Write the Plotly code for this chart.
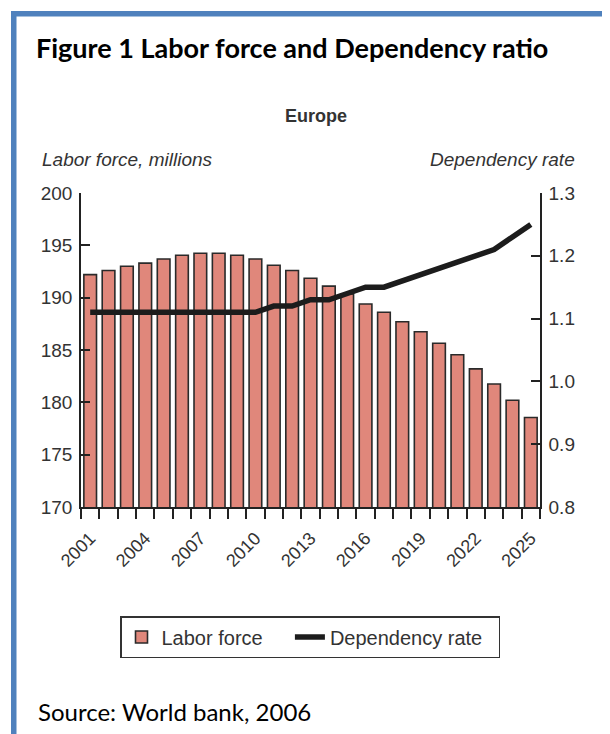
import plotly.graph_objects as go

years = list(range(2001, 2026))
labor_force = [192.2, 192.6, 193.0, 193.3, 193.7, 194.05, 194.25, 194.25, 194.05, 193.7,
               193.1, 192.6, 191.85, 191.1, 190.35, 189.4, 188.6, 187.7, 186.75, 185.65,
               184.55, 183.2, 181.75, 180.2, 178.55]
dependency = [1.11, 1.11, 1.11, 1.11, 1.11, 1.11, 1.11, 1.11, 1.11, 1.11,
              1.12, 1.12, 1.13, 1.13, 1.14, 1.15, 1.15, 1.16, 1.17, 1.18,
              1.19, 1.20, 1.21, 1.23, 1.25]
label_years = [2001, 2004, 2007, 2010, 2013, 2016, 2019, 2022, 2025]
left_ticks = [170, 175, 180, 185, 190, 195, 200]
right_ticks = [0.8, 0.9, 1.0, 1.1, 1.2, 1.3]

# page body has an 8px margin, so the figure is offset by 8px
OFF = 8
W, H = 610 - OFF, 734 - OFF
L, R, T, B = 81, 540, 193, 507  # plot area in window pixels


def px(x):
    return (x - L) / (R - L)


def py(y):
    return (B - y) / (B - T)


AX = "Liberation Sans"
TXT = "#333333"
NB = "\u00a0"

fig = go.Figure()
fig.add_trace(go.Bar(
    x=years, y=labor_force, name="Labor force" + NB * 4,
    marker=dict(color="#E0877B", line=dict(color="#2a2a2a", width=1.6)),
    yaxis="y",
))
fig.add_trace(go.Scatter(
    x=years, y=dependency, name="Dependency rate" + NB * 2, mode="lines",
    line=dict(color="#1c1c1c", width=5.5),
    yaxis="y2",
))

fig.update_layout(
    width=W, height=H,
    margin=dict(l=L - OFF, r=610 - R, t=T - OFF, b=734 - B),
    paper_bgcolor="white", plot_bgcolor="white",
    bargap=0.31,
    showlegend=True,
    legend=dict(
        orientation="h", x=px(120), xanchor="left", y=py(637), yanchor="middle",
        bordercolor="#333333", borderwidth=1.5,
        font=dict(family=AX, size=20, color=TXT),
        itemwidth=30,
    ),
    xaxis=dict(
        range=[2000.5, 2025.5], tickmode="array", tickvals=label_years,
        ticktext=[str(v) for v in label_years], tickangle=-45,
        ticks="outside", ticklen=12, tickcolor="rgba(0,0,0,0)",
        showline=True, linecolor="#222222", linewidth=1.5,
        showgrid=False, zeroline=False,
        tickfont=dict(family=AX, size=18, color=TXT),
        minor=dict(ticks="outside", tick0=2000.5, dtick=1, ticklen=10,
                   tickcolor="#222222", tickwidth=1.5, showgrid=False),
    ),
    yaxis=dict(
        range=[170, 200], tickvals=left_ticks,
        ticks="inside", ticklen=9, tickcolor="#222222", tickwidth=1.5,
        showline=True, linecolor="#222222", linewidth=1.5,
        showgrid=False, zeroline=False,
        ticklabelstandoff=3,
        tickfont=dict(family=AX, size=19, color=TXT),
    ),
    yaxis2=dict(
        range=[0.8, 1.3], tickvals=right_ticks, tickformat=".1f",
        overlaying="y", side="right",
        ticks="inside", ticklen=9, tickcolor="#222222", tickwidth=1.5,
        showline=True, linecolor="#222222", linewidth=1.5,
        showgrid=False, zeroline=False,
        ticklabelstandoff=3,
        tickfont=dict(family=AX, size=19, color=TXT),
    ),
)

annotations = [
    dict(text="<b>Figure 1 Labor force and Dependency ratio</b>", x=px(34), y=py(47),
         xanchor="left", yanchor="middle", font=dict(family="Lato", size=27, color="black")),
    dict(text="<b>Europe</b>", x=px(316), y=py(116), xanchor="center", yanchor="middle",
         font=dict(family=AX, size=18, color=TXT)),
    dict(text="<i>Labor force, millions</i>", x=px(40), y=py(159), xanchor="left", yanchor="middle",
         font=dict(family=AX, size=19, color=TXT)),
    dict(text="<i>Dependency rate</i>", x=px(577), y=py(159), xanchor="right", yanchor="middle",
         font=dict(family=AX, size=19, color=TXT)),
    dict(text="Source: World bank, 2006", x=px(36), y=py(711), xanchor="left", yanchor="middle",
         font=dict(family="Lato", size=24, color="black")),
]
for a in annotations:
    a.update(xref="paper", yref="paper", showarrow=False)
fig.update_layout(annotations=annotations)

BLUE = "#4F81BD"
shapes = [
    dict(type="rect", x0=px(11), x1=px(16.5), y0=py(745), y1=py(11), fillcolor=BLUE),
    dict(type="rect", x0=px(11), x1=px(615), y0=py(16.5), y1=py(11), fillcolor=BLUE),
    dict(type="rect", x0=px(606.5), x1=px(608.5), y0=py(745), y1=py(16), fillcolor="#A9C0DF"),
]
for s in shapes:
    s.update(xref="paper", yref="paper", line=dict(width=0), layer="above")
fig.update_layout(shapes=shapes)

fig.write_html("out.html")
